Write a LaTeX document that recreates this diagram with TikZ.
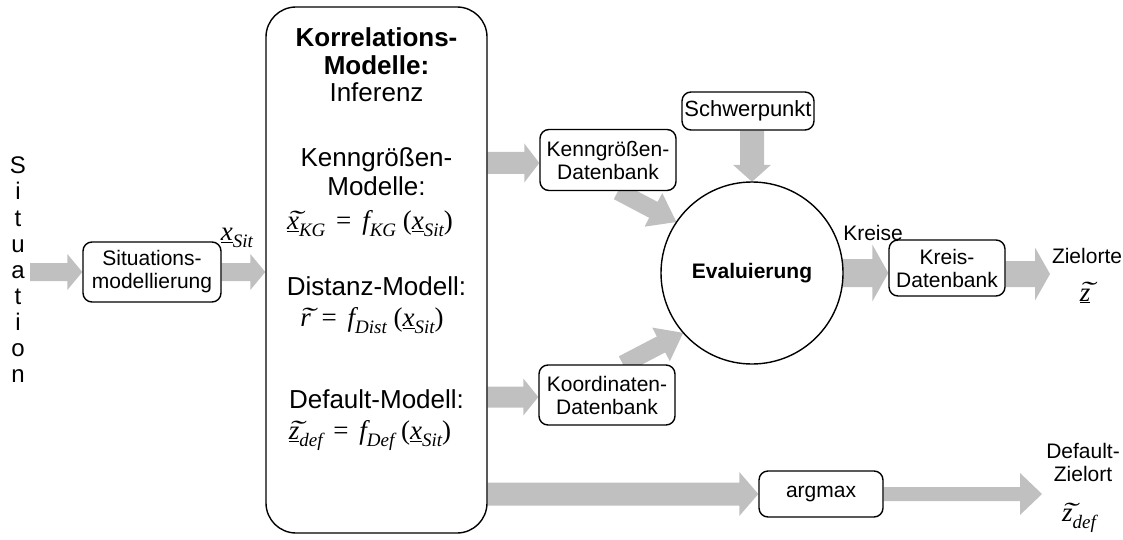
\documentclass[tikz,border=0pt]{standalone}
\usepackage{graphicx}
\usepackage{fontspec}
\setmainfont{Liberation Sans}
\newfontfamily\tms{Liberation Serif}
\usetikzlibrary{calc}
\definecolor{fatgray}{HTML}{C0C0C0}
\newcommand\tld[1]{\ooalign{#1\cr\hidewidth\kern0.15em\raisebox{0.09em}{\scalebox{1.7}[0.9]{\char"02DC}}\hidewidth\cr}}
\newcommand\sbs[1]{\raisebox{-0.26em}{\fontsize{19}{19}\selectfont #1}}
\newcommand\fatarrow[5]{%
  \coordinate (fas) at (#1);
  \coordinate (fae) at (#2);
  \coordinate (fah) at ($(fae)!#5!(fas)$);
  \fill[fatgray] ($(fas)!#3!90:(fae)$) -- ($(fah)!#3!-90:(fas)$) -- ($(fah)!#4!-90:(fas)$) -- (fae)
     -- ($(fah)!#4!90:(fas)$) -- ($(fah)!#3!90:(fas)$) -- ($(fas)!#3!-90:(fae)$) -- cycle;
}
\tikzset{
  box/.style={draw, line width=1.4pt, rounded corners=9pt, fill=white, align=center,
    font=\fontsize{21}{23}\selectfont, inner sep=0pt},
  bigtxt/.style={font=\fontsize{26}{28}\selectfont, inner sep=0pt},
  bigbold/.style={font=\fontsize{26}{28}\selectfont\bfseries, inner sep=0pt},
  formula/.style={font=\tms\fontsize{27}{29}\selectfont, inner sep=0pt},
  lbl/.style={font=\fontsize{21}{23}\selectfont, inner sep=0pt, align=center},
  sitletter/.style={font=\fontsize{24}{26}\selectfont, inner sep=0pt, anchor=base},
}
\begin{document}
\begin{tikzpicture}[x=1pt, y=-1pt]
\useasboundingbox (0,0) rectangle (1123,540);

% Situation letters
\foreach \ch [count=\i] in {S,i,t,u,a,t,i,o,n}
  \node[sitletter] (sit\i) at (18,{174+26*(\i-1)}) {\ch};

% free coordinates
\coordinate (sitin) at (30,272);
\coordinate (zo) at (1050,274);
\coordinate (dz) at (1042,494);

% invisible anchors for the nodes
\path
  node[box, minimum width=138pt, minimum height=60pt, draw=none, fill=none] (sm) at (152,272) {\phantom{X}}
  node[box, minimum width=221pt, minimum height=526pt, draw=none, fill=none] (big) at (376.5,270) {}
  node[box, minimum width=136pt, minimum height=61pt, draw=none, fill=none] (kg) at (608,160) {}
  node[box, minimum width=132pt, minimum height=38pt, draw=none, fill=none] (sp) at (748,111) {}
  node[box, minimum width=136pt, minimum height=60pt, draw=none, fill=none] (ko) at (607,395) {}
  node[circle, minimum size=182pt, inner sep=0pt] (ev) at (752,273) {}
  node[box, minimum width=116pt, minimum height=56pt, draw=none, fill=none] (kr) at (947,268) {}
  node[box, minimum width=124pt, minimum height=46pt, draw=none, fill=none] (am) at (821,494) {};

\coordinate (kgin) at ($(kg.west)+(0,3)$);
\coordinate (koin) at ($(ko.west)+(0,2)$);

% fat arrows
\fatarrow{sitin}{sm.west}{9pt}{18pt}{15pt}
\fatarrow{sm.east}{big.west|-sm.east}{9pt}{18pt}{15pt}
\fatarrow{big.east|-kgin}{kgin}{11pt}{19.5pt}{15pt}
\fatarrow{big.east|-koin}{koin}{10.5pt}{18.5pt}{15pt}
\fatarrow{big.east|-am.west}{am.west}{11.5pt}{22pt}{19pt}
\fatarrow{sp.south-|ev.north}{ev.north}{12pt}{19pt}{17pt}
\fatarrow{$(kg.south)+(10,0)$}{ev.146}{9pt}{19pt}{26pt}
\fatarrow{$(ko.north)+(16,0)$}{ev.221}{9pt}{19pt}{25pt}
\fatarrow{ev.east}{kr.west|-ev.east}{14pt}{28.5pt}{16pt}
\fatarrow{kr.east|-zo}{zo}{13pt}{26.5pt}{15pt}
\fatarrow{am.east}{dz}{7pt}{21pt}{22pt}

% visible nodes
\node[box, minimum width=138pt, minimum height=60pt] (smv) at (sm) {Situations-\\modellierung};
\node[box, rounded corners=30pt, minimum width=221pt, minimum height=526pt] (bigv) at (big) {};
\node[box, minimum width=136pt, minimum height=61pt] (kgv) at (kg) {Kenngrößen-\\Datenbank};
\node[box, minimum width=132pt, minimum height=38pt, font=\fontsize{22}{24}\selectfont] (spv) at (sp) {Schwerpunkt};
\node[box, minimum width=136pt, minimum height=60pt] (kov) at (ko) {Koordinaten-\\Datenbank};
\node[draw, circle, line width=1.4pt, fill=white, minimum size=182pt, inner sep=0pt,
  font=\fontsize{21}{23}\selectfont\bfseries] (evv) at (ev) {Evaluierung};
\node[box, minimum width=116pt, minimum height=56pt] (krv) at (kr) {Kreis-\\Datenbank};
\node[box, minimum width=124pt, minimum height=46pt] (amv) at (am) {argmax};

% texts in the big box
\node[bigbold] (t1) at (376.5,37) {Korrelations-};
\node[bigbold] (t2) at (376.5,65) {Modelle:};
\node[bigtxt] (t3) at (376.5,92) {Inferenz};
\node[bigtxt] (t4) at (376.5,160) {Kenngrößen-};
\node[bigtxt] (t5) at (376.5,186) {Modelle:};
\node[formula] (f1) at (370,224) {\itshape\underline{\tld{x}}\sbs{KG}\upshape\hspace{0.4em}=\hspace{0.4em}\itshape f\sbs{KG}\hspace{0.25em}\upshape(\itshape\underline{x}\sbs{Sit}\upshape)};
\node[bigtxt] (t6) at (376.5,286) {Distanz-Modell:};
\node[formula] (f2) at (372,321) {\itshape\tld{r}\upshape\hspace{0.4em}=\hspace{0.4em}\itshape f\sbs{Dist}\hspace{0.25em}\upshape(\itshape\underline{x}\sbs{Sit}\upshape)};
\node[bigtxt] (t7) at (376.5,399) {Default-Modell:};
\node[formula] (f3) at (370,436) {\itshape\underline{\tld{z}}\sbs{def}\upshape\hspace{0.4em}=\hspace{0.4em}\itshape f\sbs{Def}\hspace{0.25em}\upshape(\itshape\underline{x}\sbs{Sit}\upshape)};

% labels
\node[formula] (xsit) at (237,238) {\itshape\underline{x}\sbs{Sit}};
\node[lbl] (kreise) at (873,233) {Kreise};
\node[lbl] (zielorte) at (1087,256) {Zielorte};
\node[formula] (zt) at (1085,296) {\itshape\underline{\tld{z}}};
\node[lbl] (defz) at (1083,462) {Default-\\Zielort};
\node[formula] (zdef) at (1079,521) {\itshape\tld{z}\sbs{def}};
\end{tikzpicture}
\end{document}
